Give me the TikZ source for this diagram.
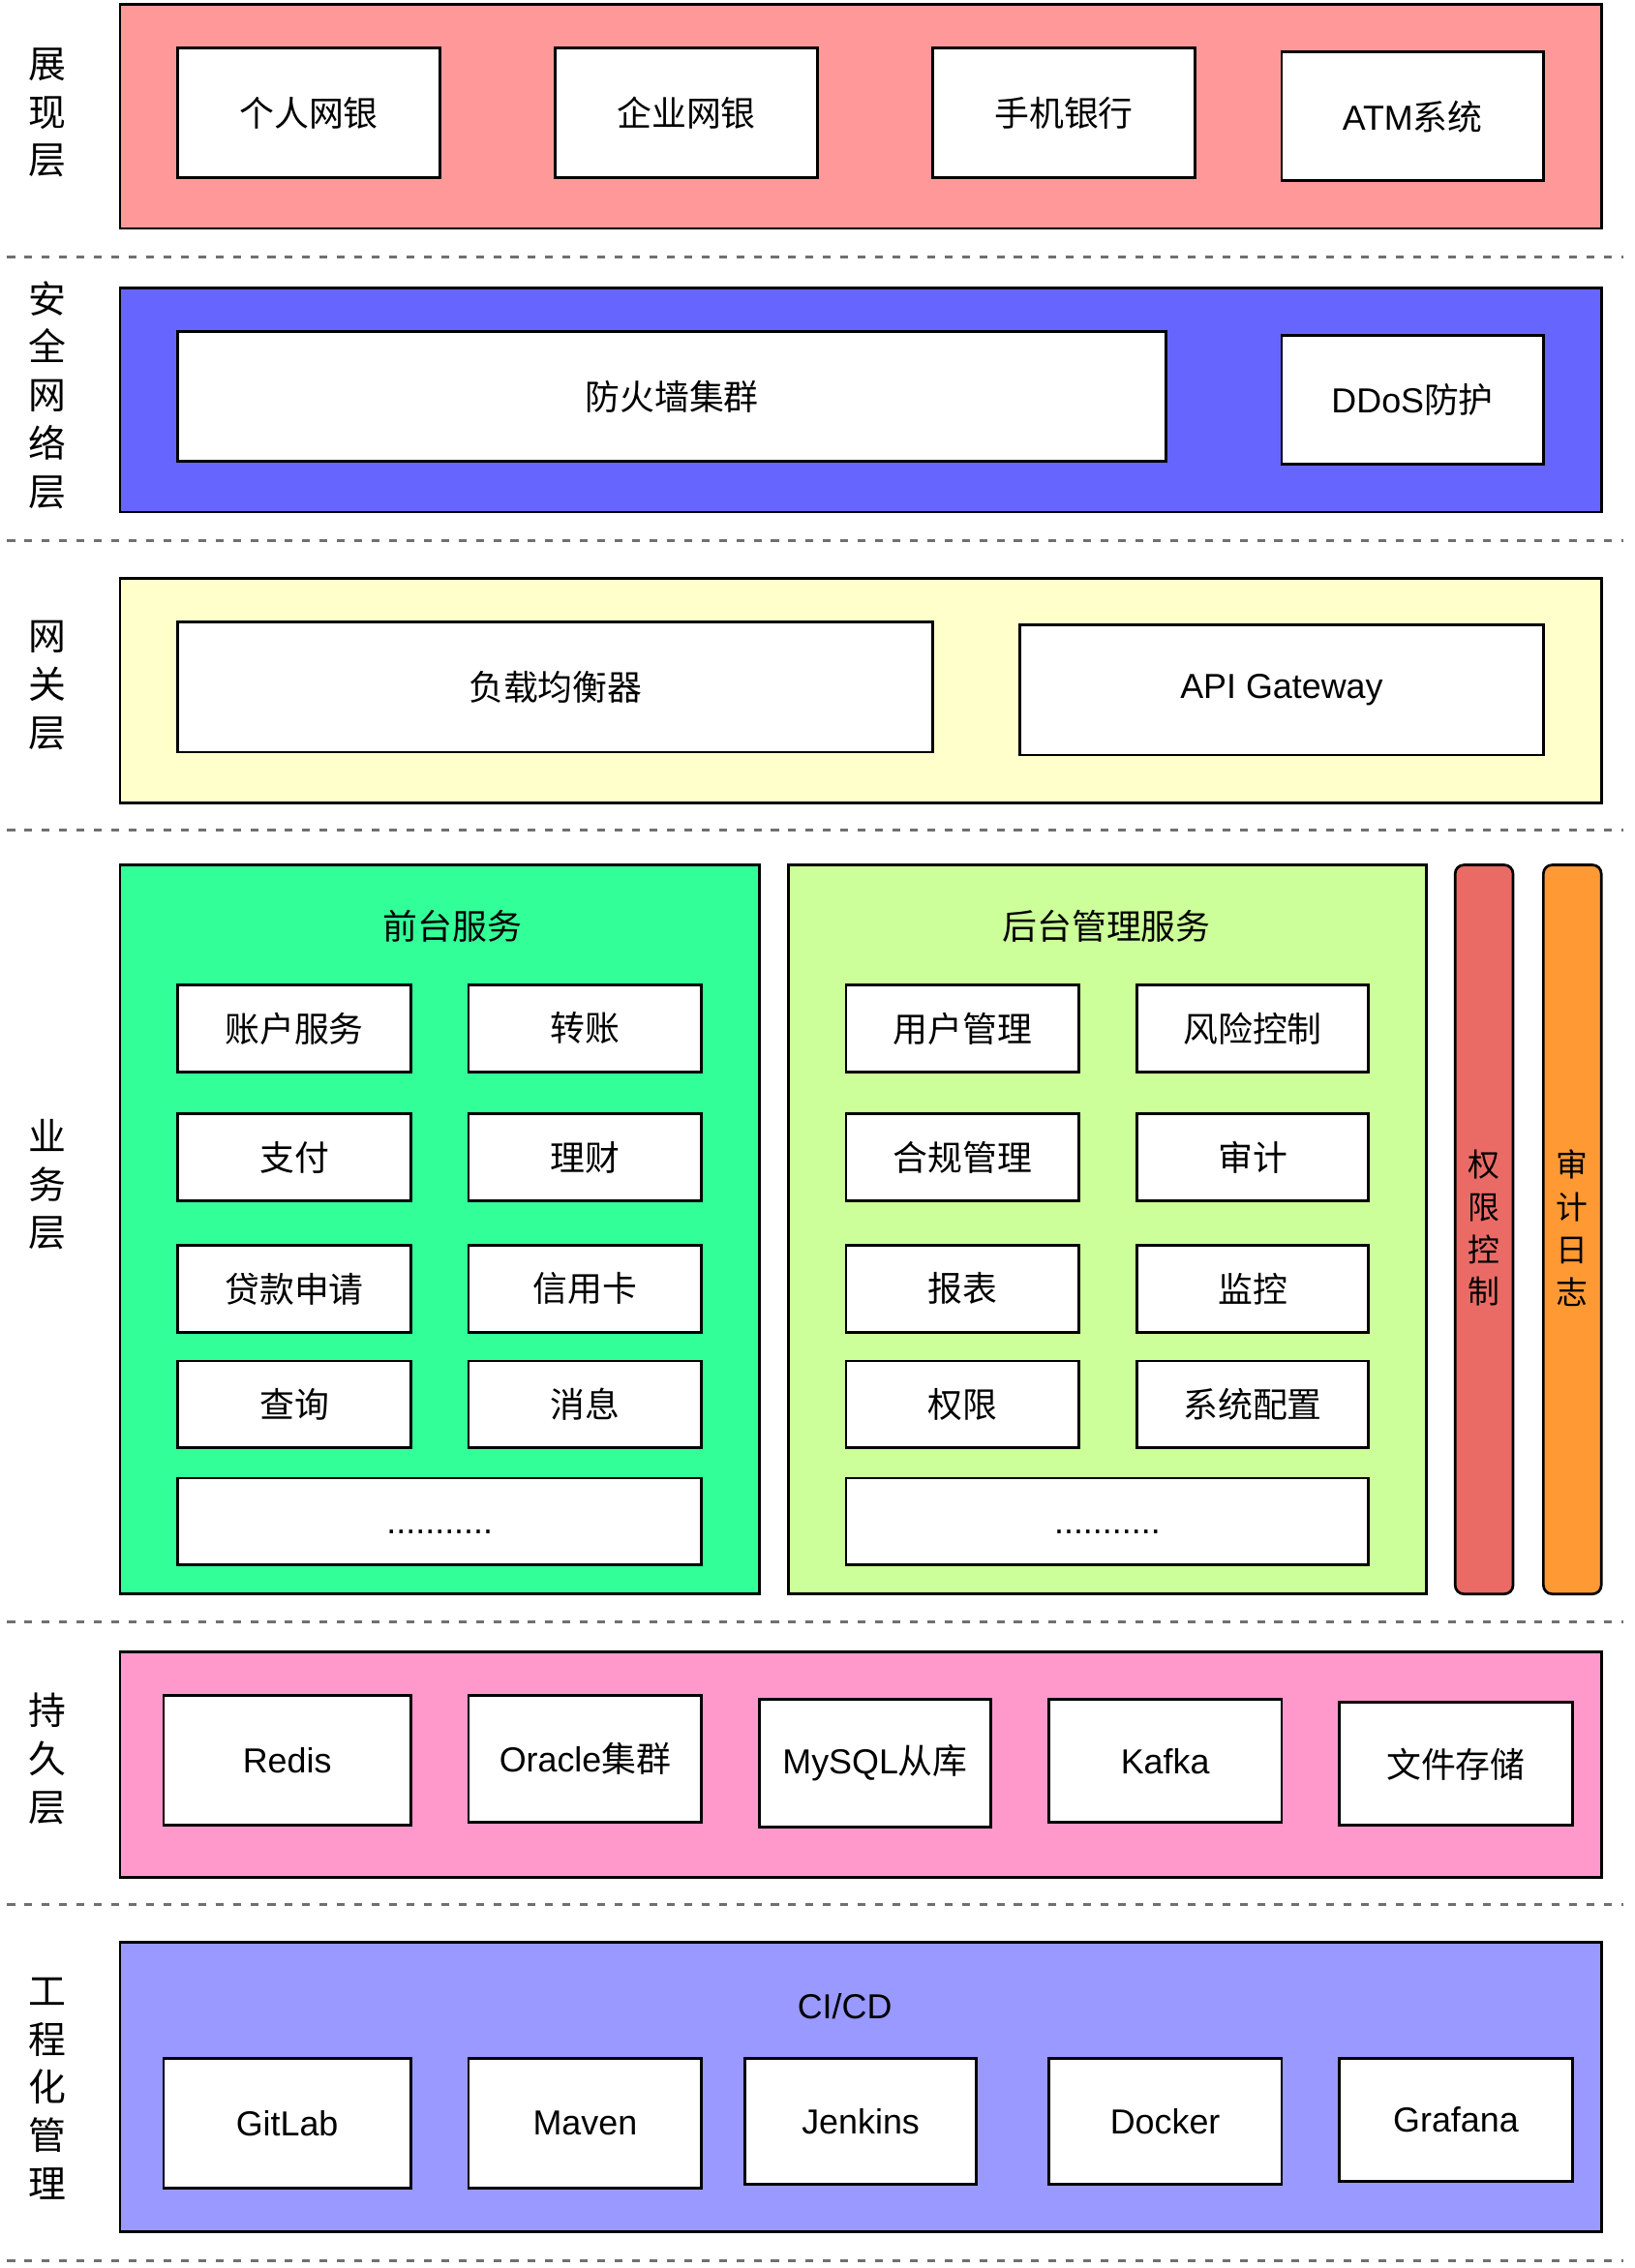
\documentclass[tikz,border=0pt]{standalone}
\usepackage{fontspec}
\setmainfont{Noto Sans CJK SC}
\newfontfamily\lat{Liberation Sans}
\definecolor{cA}{HTML}{FF9999}
\definecolor{cB}{HTML}{6666FF}
\definecolor{cC}{HTML}{FFFFCC}
\definecolor{cD}{HTML}{33FF99}
\definecolor{cE}{HTML}{CCFF99}
\definecolor{cF}{HTML}{EA6B66}
\definecolor{cG}{HTML}{FF9933}
\definecolor{cH}{HTML}{FF99CC}
\definecolor{cI}{HTML}{9999FF}
\definecolor{sepgray}{HTML}{707070}
\tikzset{
  layerbox/.style={draw=black, line width=1.8pt, inner sep=0pt},
  wbox/.style={draw=black, fill=white, line width=1.8pt, inner sep=0pt, font=\fontsize{24}{28}\selectfont},
  sepline/.style={draw=sepgray, line width=2pt, dash pattern=on 5.4pt off 6.6pt},
  sidelabel/.style={inner sep=0pt, align=center, font=\fontsize{26}{33.3}\selectfont},
  bartext/.style={inner sep=0pt, align=center, font=\fontsize{22}{29.3}\selectfont},
  titletext/.style={inner sep=0pt, font=\fontsize{24}{28}\selectfont},
}
% \bx[style]{name}{x1}{y1}{x2}{y2}{text}
\newcommand\bx[7][wbox]{%
  \node[#1, minimum width={#5-#3}, minimum height={#6-#4}] (#2) at ({(#3+#5)/2},{(#4+#6)/2}) {#7};}
\newcommand\mydots{{\lat\vphantom{A}...........}}
\begin{document}
\begin{tikzpicture}[x=1pt,y=-1pt]
\useasboundingbox (0,0) rectangle (1130,1568);
\fill[white] (0,0) rectangle (1130,1568);

% separators
\foreach \yy/\nm in {178/s1,374/s2,574/s3,1121/s4,1317/s5,1563/s6}{
  \coordinate (\nm a) at (5,\yy);
  \coordinate (\nm b) at (1122,\yy);
  \draw[sepline] (\nm a) -- (\nm b);
}

% ---- layer 1
\bx[layerbox, fill=cA]{L1}{83}{3}{1107}{158}{}
\node[sidelabel] (t1) at (33,78) {展\\现\\层};
\bx{a1}{123}{33}{304}{123}{个人网银}
\bx{a2}{384}{33}{565}{123}{企业网银}
\bx{a3}{645}{33}{826}{123}{手机银行}
\bx{a4}{886}{36}{1067}{125}{{\lat ATM}系统}

% ---- layer 2
\bx[layerbox, fill=cB]{L2}{83}{199}{1107}{354}{}
\node[sidelabel] (t2) at (33,273) {安\\全\\网\\络\\层};
\bx{b1}{123}{229}{806}{319}{防火墙集群}
\bx{b2}{886}{232}{1067}{321}{{\lat DDoS}防护}

% ---- layer 3
\bx[layerbox, fill=cC]{L3}{83}{400}{1107}{555}{}
\node[sidelabel] (t3) at (33,474) {网\\关\\层};
\bx{c1}{123}{430}{645}{520}{负载均衡器}
\bx{c2}{705}{432}{1067}{522}{\lat API Gateway}

% ---- layer 4
\node[sidelabel] (t4) at (33,819) {业\\务\\层};
\bx[layerbox, fill=cD]{fg}{83}{598}{525}{1102}{}
\node[titletext] (fgt) at (313,640) {前台服务};
\bx{f1}{123}{681}{284}{741}{账户服务}
\bx{f2}{324}{681}{485}{741}{转账}
\bx{f3}{123}{770}{284}{830}{支付}
\bx{f4}{324}{770}{485}{830}{理财}
\bx{f5}{123}{861}{284}{921}{贷款申请}
\bx{f6}{324}{861}{485}{921}{信用卡}
\bx{f7}{123}{941}{284}{1001}{查询}
\bx{f8}{324}{941}{485}{1001}{消息}
\bx{f9}{123}{1022}{485}{1082}{\mydots}

\bx[layerbox, fill=cE]{bg}{545}{598}{986}{1102}{}
\node[titletext] (bgt) at (765,640) {后台管理服务};
\bx{g1}{585}{681}{746}{741}{用户管理}
\bx{g2}{786}{681}{946}{741}{风险控制}
\bx{g3}{585}{770}{746}{830}{合规管理}
\bx{g4}{786}{770}{946}{830}{审计}
\bx{g5}{585}{861}{746}{921}{报表}
\bx{g6}{786}{861}{946}{921}{监控}
\bx{g7}{585}{941}{746}{1001}{权限}
\bx{g8}{786}{941}{946}{1001}{系统配置}
\bx{g9}{585}{1022}{946}{1082}{\mydots}

\bx[layerbox, fill=cF, rounded corners=6pt]{qx}{1006}{598}{1046}{1102}{}
\node[bartext] (qxt) at (1026,849) {权\\限\\控\\制};
\bx[layerbox, fill=cG, rounded corners=6pt]{sj}{1067}{598}{1107}{1102}{}
\node[bartext] (sjt) at (1087,849) {审\\计\\日\\志};

% ---- layer 5
\bx[layerbox, fill=cH]{L5}{83}{1142}{1107}{1298}{}
\node[sidelabel] (t5) at (33,1216) {持\\久\\层};
\bx{p1}{113}{1172}{284}{1262}{\lat Redis}
\bx{p2}{324}{1172}{485}{1260}{{\lat Oracle}集群}
\bx{p3}{525}{1175}{685}{1263}{{\lat MySQL}从库}
\bx{p4}{725}{1175}{886}{1260}{\lat Kafka}
\bx{p5}{926}{1177}{1087}{1262}{文件存储}

% ---- layer 6
\bx[layerbox, fill=cI]{L6}{83}{1343}{1107}{1543}{}
\node[sidelabel] (t6) at (33,1444) {工\\程\\化\\管\\理};
\node[titletext] (cicd) at (584,1387) {\lat CI/CD};
\bx{e1}{113}{1423}{284}{1513}{\lat GitLab}
\bx{e2}{324}{1423}{485}{1513}{\lat Maven}
\bx{e3}{515}{1423}{675}{1510}{\lat Jenkins}
\bx{e4}{725}{1423}{886}{1510}{\lat Docker}
\bx{e5}{926}{1423}{1087}{1508}{\lat Grafana}
\end{tikzpicture}
\end{document}
